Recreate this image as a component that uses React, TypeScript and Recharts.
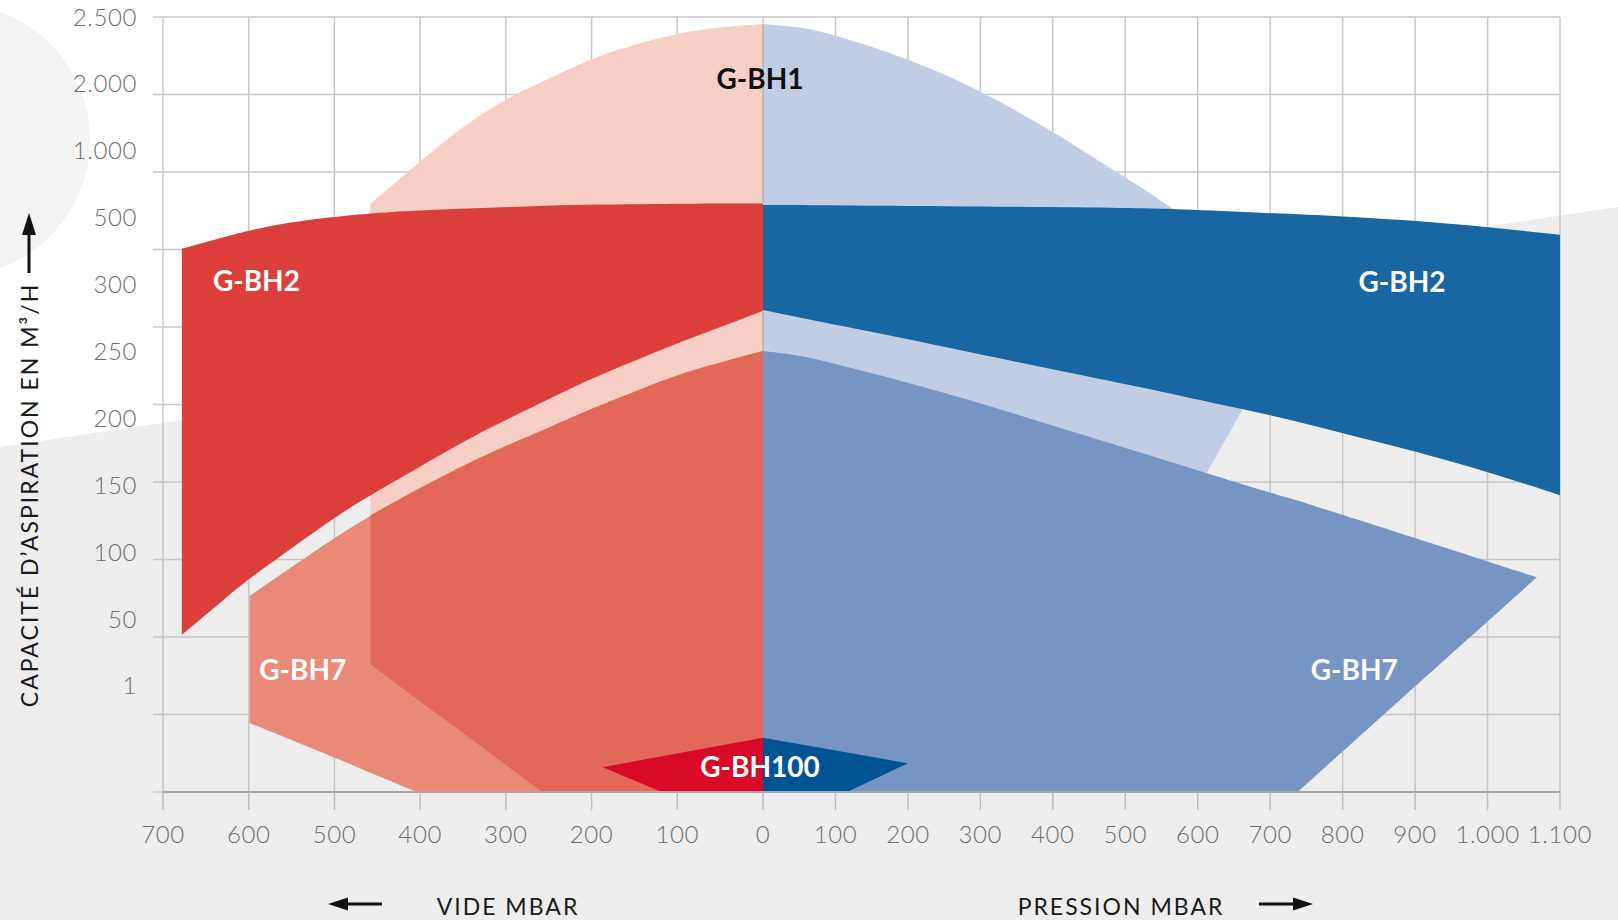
import React from "react";
import { Area, AreaChart, CartesianGrid, ReferenceDot, ReferenceLine, XAxis, YAxis } from "recharts";

// x-axis: vacuum side (700 -> 0) then pressure side (100 -> 1.100)
const videTicks = [700, 600, 500, 400, 300, 200, 100, 0];
const pressionTicks = [100, 200, 300, 400, 500, 600, 700, 800, 900, 1000, 1100];
const pressionTickLabels = ["100", "200", "300", "400", "500", "600", "700", "800", "900", "1.000", "1.100"];
// the pressure side is drawn tighter than the vacuum side (width of 100 mbar, relative)
const PRESSION_STEP = 0.8453;
// y-axis labels, bottom to top (they sit on their own spacing, not on the grid lines)
const yTickLabels = ["1", "50", "100", "150", "200", "250", "300", "500", "1.000", "2.000", "2.500"];
const yGridLines = [0, 1, 2, 3, 4, 5, 6, 7, 8, 9, 10];

// rows: [mbar, low, high], heights on the chart's stepped capacity grid (0 = axis, 10 = top line)
const bh1Vide = [
  [458, 1.65, 7.59], [415, 1.3, 7.99], [362, 0.86, 8.5], [299, 0.34, 8.96], [258, 0, 9.16],
  [200, 0, 9.47], [152, 0, 9.64], [100, 0, 9.79], [50, 0, 9.87], [0, 0, 9.91],
];
const bh1Pression = [
  [0, 0, 9.91], [50, 0, 9.87], [93, 0, 9.79], [200, 0, 9.47], [300, 0, 9.05], [364, 0, 8.71],
  [400, 0.6, 8.52], [483, 1.97, 8.03], [534, 2.82, 7.73], [566, 3.35, 7.52], [600, 3.91, 7.3],
  [640, 4.57, 7.0], [663, 4.96, 4.96],
];
const bh7Vide = [
  [599, 0.89, 2.53], [499, 0.44, 3.29], [458, 0.25, 3.57], [404, 0, 3.9], [341, 0, 4.26],
  [299, 0, 4.47], [258, 0, 4.66], [204, 0, 4.93], [140, 0, 5.21], [91, 0, 5.42], [40, 0, 5.57], [0, 0, 5.69],
];
// zone where G-BH1 and G-BH7 overlap on the vacuum side
const bh1bh7Vide = [
  [458, 1.65, 3.57], [404, 1.2, 3.9], [341, 0.69, 4.26], [299, 0.34, 4.47], [258, 0, 4.66],
  [204, 0, 4.93], [140, 0, 5.21], [91, 0, 5.42], [40, 0, 5.57], [0, 0, 5.69],
];
const bh7Pression = [
  [0, 0, 5.69], [50, 0, 5.64], [110, 0, 5.5], [258, 0, 5.14], [406, 0, 4.71], [611, 0, 4.12],
  [700, 0, 3.86], [738, 0, 3.76], [903, 1.39, 3.27], [1068, 2.77, 2.77],
];
const bh2Vide = [
  [678, 2.03, 7.01], [625, 2.52, 7.17], [599, 2.76, 7.25], [548, 3.16, 7.36], [499, 3.55, 7.42], [458, 3.83, 7.47],
  [392, 4.25, 7.51], [341, 4.58, 7.53], [270, 4.96, 7.56], [204, 5.32, 7.58], [140, 5.61, 7.585], [91, 5.83, 7.59],
  [40, 6.04, 7.592], [0, 6.21, 7.594],
];
const bh2Pression = [
  [0, 6.22, 7.574], [100, 6.03, 7.57], [258, 5.73, 7.56], [396, 5.46, 7.548], [534, 5.2, 7.53], [566, 5.13, 7.523],
  [700, 4.87, 7.47], [800, 4.63, 7.43], [903, 4.39, 7.37], [1001, 4.13, 7.29], [1100, 3.83, 7.19],
];
const bh100Vide = [[187, 0.32, 0.32], [118, 0, 0.46], [0, 0, 0.7]];
const bh100Pression = [[0, 0, 0.7], [116, 0, 0.51], [200, 0.37, 0.37]];

// the 0 mbar grid line shows through the light G-BH1 zones
const zeroLineSpans = [[7.59, 9.91], [5.69, 6.21]];

const labels = [
  { text: "G-BH1", side: "vide", mbar: 3.5, level: 9.2, color: "#111" },
  { text: "G-BH2", side: "vide", mbar: 591, level: 6.59, color: "#fff" },
  { text: "G-BH2", side: "pression", mbar: 882, level: 6.58, color: "#fff" },
  { text: "G-BH7", side: "vide", mbar: 537, level: 1.57, color: "#fff" },
  { text: "G-BH7", side: "pression", mbar: 816, level: 1.57, color: "#fff" },
  { text: "G-BH100", side: "vide", mbar: 3.5, level: 0.32, color: "#fff" },
];

const toX = (side: string, mbar: number) => (side === "vide" ? 7 - mbar / 100 : 7 + (PRESSION_STEP * mbar) / 100);
// a sharp corner (where a straight edge meets the axis) is repeated so the smooth curve passes through it
const rows = (side: string, data: number[][], corners: number[] = []) =>
  data.flatMap(([m, lo, hi]) => {
    const r = { x: toX(side, m), v: [lo, hi] };
    return corners.includes(m) ? [r, r, r] : [r];
  });

const xTicks = [
  ...videTicks.map((m) => ({ pos: toX("vide", m), label: String(m) })),
  ...pressionTicks.map((m, i) => ({ pos: toX("pression", m), label: pressionTickLabels[i] })),
];
const xLabel = (pos: number) => {
  const t = xTicks.find((d) => Math.abs(d.pos - pos) < 0.01);
  return t ? t.label : "";
};

const shapes = [
  { data: rows("vide", bh1Vide, [258]), fill: "#f6cec3", type: "basis" },
  { data: rows("pression", bh1Pression, [364]), fill: "#c1cde5", type: "basis" },
  { data: rows("vide", bh7Vide, [404]), fill: "#e98a78", type: "basis" },
  { data: rows("vide", bh1bh7Vide, [258]), fill: "#e4685a", type: "basis" },
  { data: rows("pression", bh7Pression, [738]), fill: "#7795c3", type: "basis" },
  { data: rows("vide", bh2Vide), fill: "#dc3e3c", type: "basis" },
  { data: rows("pression", bh2Pression), fill: "#1866a2", type: "basis" },
  { data: rows("vide", bh100Vide), fill: "#d80a28", type: "linear" },
  { data: rows("pression", bh100Pression), fill: "#015494", type: "linear" },
];

const FONT = "Lato, 'Noto Sans', sans-serif";
const titleStyle: React.CSSProperties = {
  position: "absolute",
  whiteSpace: "nowrap",
  fontSize: 23,
  letterSpacing: 2,
  color: "#1a1a1a",
};
const tickStyle = { fill: "#6e6e6e", fontSize: 24, fontWeight: 300, letterSpacing: 0.6 };

function Arrow({ dir }: { dir: "up" | "left" | "right" }) {
  if (dir === "up")
    return (
      <svg width={20} height={64} style={{ position: "absolute", left: 19, top: 211 }}>
        <line x1={10} y1={18} x2={10} y2={62} stroke="#111" strokeWidth={3} />
        <polygon points="10,2 3,24 17,24" fill="#111" />
      </svg>
    );
  const left = dir === "left" ? 326 : 1257;
  return (
    <svg width={58} height={16} style={{ position: "absolute", left, top: 896 }}>
      {dir === "left" ? (
        <>
          <line x1={16} y1={8} x2={56} y2={8} stroke="#111" strokeWidth={3} />
          <polygon points="2,8 22,1.5 22,14.5" fill="#111" />
        </>
      ) : (
        <>
          <line x1={2} y1={8} x2={42} y2={8} stroke="#111" strokeWidth={3} />
          <polygon points="56,8 36,1.5 36,14.5" fill="#111" />
        </>
      )}
    </svg>
  );
}

export default function App() {
  return (
    <div style={{ position: "absolute", left: 0, top: 0, width: 1618, height: 920, background: "#fff", fontFamily: FONT, overflow: "hidden" }}>
      <div style={{ position: "absolute", left: -182, top: 4, width: 272, height: 272, borderRadius: "50%", background: "#f3f3f3" }} />
      <div style={{ position: "absolute", inset: 0, background: "#ededed", clipPath: "polygon(0 447px, 100% 207px, 100% 100%, 0 100%)" }} />
      <AreaChart width={1618} height={920} margin={{ top: 17, right: 58, bottom: 68, left: 0 }} style={{ position: "absolute", left: 0, top: 0 }}>
        <CartesianGrid stroke="#c6c6c6" strokeWidth={1.5} horizontalValues={yGridLines} verticalValues={xTicks.map((t) => t.pos)} />
        <XAxis
          type="number"
          dataKey="x"
          domain={[0, toX("pression", 1100)]}
          allowDataOverflow
          ticks={xTicks.map((t) => t.pos)}
          interval={0}
          tickFormatter={xLabel}
          height={60}
          tickSize={18}
          tickMargin={16}
          tickLine={{ stroke: "#bdbdbd", strokeWidth: 1.5 }}
          axisLine={{ stroke: "#a9a9a9", strokeWidth: 2 }}
          tick={tickStyle}
        />
        <YAxis
          type="number"
          domain={[0, 10]}
          allowDataOverflow
          ticks={yGridLines}
          interval={0}
          width={10}
          tickFormatter={() => ""}
          tickSize={10}
          tickLine={{ stroke: "#c6c6c6", strokeWidth: 1.5 }}
          axisLine={false}
        />
        <YAxis
          yAxisId="lab"
          type="number"
          domain={[-1.585, 10]}
          allowDataOverflow
          ticks={yGridLines}
          interval={0}
          tickFormatter={(i: number) => yTickLabels[i]}
          width={153}
          tickSize={0}
          tickMargin={16}
          tickLine={false}
          axisLine={false}
          tick={tickStyle}
        />
        {shapes.map((s, i) => (
          <Area
            key={i}
            data={s.data}
            dataKey="v"
            type={s.type as "basis" | "linear"}
            stroke="none"
            fill={s.fill}
            fillOpacity={1}
            dot={false}
            activeDot={false}
            isAnimationActive={false}
          />
        ))}
        {zeroLineSpans.map(([lo, hi], i) => (
          <ReferenceLine
            key={"z" + i}
            segment={[
              { x: toX("vide", 0), y: lo },
              { x: toX("vide", 0), y: hi },
            ]}
            stroke="#b4b4b4"
            strokeWidth={1.5}
          />
        ))}
        {labels.map((l, i) => (
          <ReferenceDot
            key={"l" + i}
            x={toX(l.side, l.mbar)}
            y={l.level}
            r={0}
            fill="none"
            stroke="none"
            label={{ value: l.text, position: "center", fill: l.color, fontSize: 28, fontWeight: 700, fontFamily: FONT }}
          />
        ))}
      </AreaChart>
      <div style={{ ...titleStyle, left: 29, top: 495, transform: "translate(-50%, -50%) rotate(-90deg)" }}>CAPACITÉ D’ASPIRATION EN M³/H</div>
      <Arrow dir="up" />
      <div style={{ ...titleStyle, left: 508, top: 906, transform: "translate(-50%, -50%)" }}>VIDE MBAR</div>
      <Arrow dir="left" />
      <div style={{ ...titleStyle, left: 1121, top: 906, transform: "translate(-50%, -50%)" }}>PRESSION MBAR</div>
      <Arrow dir="right" />
    </div>
  );
}
